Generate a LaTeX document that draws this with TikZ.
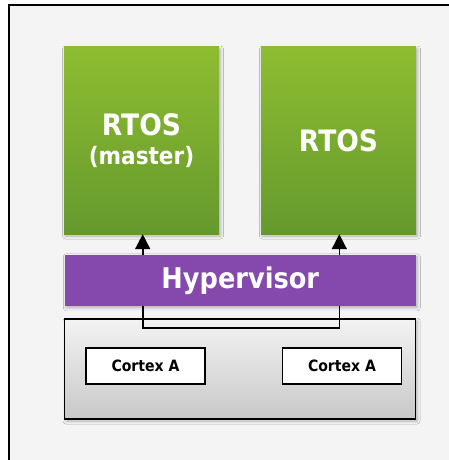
\documentclass[tikz,border=0pt]{standalone}
\usepackage{fontspec}
\setmainfont{DejaVu Sans}[FakeStretch=0.9]
\usetikzlibrary{arrows.meta,shadows.blur}
\definecolor{panelbg}{HTML}{F4F4F4}
\definecolor{greentop}{HTML}{8EBD31}
\definecolor{greenbot}{HTML}{65992D}
\definecolor{hvpurple}{HTML}{8549AE}
\definecolor{socttop}{HTML}{F3F3F3}
\definecolor{socbot}{HTML}{C8C8C8}
\tikzset{
  softshadow/.style={blur shadow={shadow xshift=1.5pt,shadow yshift=-2pt,shadow blur steps=6,shadow opacity=28,shadow blur radius=3pt}},
  osbox/.style={draw=none,top color=greentop,bottom color=greenbot,minimum width=155pt,minimum height=187pt,
    text=white,font=\bfseries\fontsize{29.5}{29}\selectfont,align=center,inner sep=0pt,softshadow},
  hvbox/.style={draw=none,fill=hvpurple,minimum width=351pt,minimum height=51pt,text=white,
    font=\bfseries\fontsize{28.5}{30}\selectfont,inner sep=0pt,softshadow},
  socbox/.style={draw=black,line width=1.5pt,top color=socttop,bottom color=socbot,minimum width=351pt,minimum height=100pt,inner sep=0pt,softshadow},
  corebox/.style={draw=black,line width=1.5pt,fill=white,minimum width=119pt,minimum height=36pt,inner sep=0pt,
    font=\bfseries\fontsize{15.6}{18}\selectfont},
  link/.style={draw=black,line width=1.6pt},
  tip/.tip={Triangle[width=15pt,length=15pt]},
}
\begin{document}
\begin{tikzpicture}[x=1pt,y=-1pt]
\useasboundingbox (0,0) rectangle (449,460);
% outer panel
\draw[line width=2pt,fill=panelbg] (8.5,5.5) rectangle (470,480);

% operating systems
\node[osbox] (os1) at (141.5,140.5) {RTOS\\\fontsize{24}{29}\selectfont (master)};
\node[osbox] (os2) at (338.5,140.5) {RTOS};

% SoC with cores
\node[socbox] (soc) at (240,369) {};
\node[corebox] (c1) at (145.5,366) {Cortex A};
\node[corebox] (c2) at (342,366) {Cortex A};

% path from the first OS through the hypervisor to the second OS
\coordinate (la) at (142.7,327.7);
\coordinate (ra) at (339.3,327.7);
\draw[link,tip-tip] (os1.south -| la) -- (la) -- (ra) -- (os2.south -| ra);

% hypervisor layer
\node[hvbox] (hv) at (240.3,280.3) {Hypervisor};
\end{tikzpicture}
\end{document}
